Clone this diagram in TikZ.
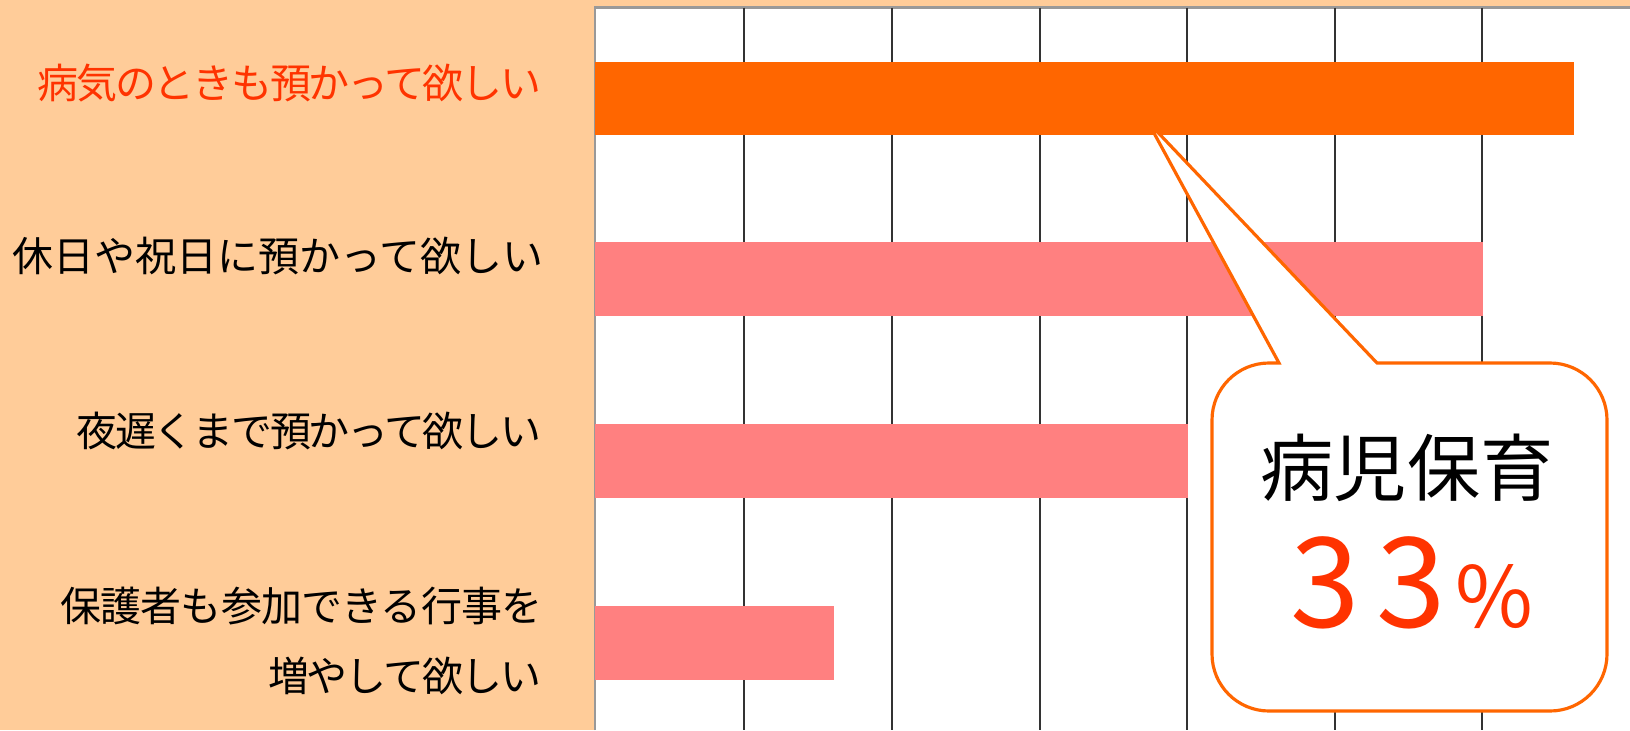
\documentclass[tikz,border=0pt]{standalone}
\usepackage{fontspec}
\setmainfont{Noto Sans CJK JP}
\definecolor{peach}{HTML}{FFCC99}
\definecolor{sickorange}{HTML}{FF6600}
\definecolor{wishpink}{HTML}{FF8080}
\definecolor{textred}{HTML}{FF3300}
\tikzset{
  gridline/.style={black!80, line width=0.45pt},
  itemtext/.style={inner sep=0pt, anchor=base east,
    font=\fontsize{11.65}{13}\selectfont\addfontfeature{LetterSpace=#1}},
  itemtext/.default=0,
  callout/.style={fill=white, draw=sickorange, line width=0.9pt, line join=miter}
}

\begin{document}
\begin{tikzpicture}[x=0.01cm, y=0.01cm]
    \useasboundingbox (0,0) rectangle (1630,-730);
    % Background and plot area
    \fill[peach] (0,0) rectangle (1630,-730);
    \fill[white] (595,-7.5) rectangle (1630,-730);
    \draw[black!40, line width=0.6pt] (595,-730) -- (595,-7.5) -- (1630,-7.5);

    % Grid lines
    \foreach \gx in {744,892,1040,1187,1335,1482}
        \draw[gridline] (\gx,-7.5) -- (\gx,-730);

    % Bars
    \fill[sickorange] (595,-62) rectangle (1574,-135);
    \foreach \top/\len in {242/1483, 424/1188, 606/834}
        \fill[wishpink] (595,-\top) rectangle (\len,-\top-74);

    % Item labels
    \node[itemtext=-5.5, text=textred] (sick) at (542,-98) {病気のときも預かって欲しい};
    \node[itemtext] (holiday) at (544,-271) {休日や祝日に預かって欲しい};
    \node[itemtext=-5.5] (late) at (542,-446) {夜遅くまで預かって欲しい};
    \node[itemtext=-2] (event) at (543,-621) {保護者も参加できる行事を};
    \node[itemtext=-5] (eventb) at (542,-691) {増やして欲しい};

    % Speech balloon
    \draw[callout] (1148,-122) -- (1279,-363) -- (1269,-363)
        arc[start angle=90, end angle=180, radius=57] -- (1212,-654)
        arc[start angle=180, end angle=270, radius=57] -- (1550,-711)
        arc[start angle=270, end angle=360, radius=57] -- (1607,-420)
        arc[start angle=0, end angle=90, radius=57] -- (1377,-363) -- cycle;
    \node[anchor=base, inner sep=0pt, font=\fontsize{20.8}{24}\selectfont] (title) at (1407,-495) {病児保育};
    \node[anchor=base, inner sep=0pt, text=textred] (pct) at (1412,-627)
        {\fontsize{35.6}{40}\selectfont 3\kern0.16cm 3\kern0.1cm\fontsize{24}{28}\selectfont\%};
\end{tikzpicture}
\end{document}
